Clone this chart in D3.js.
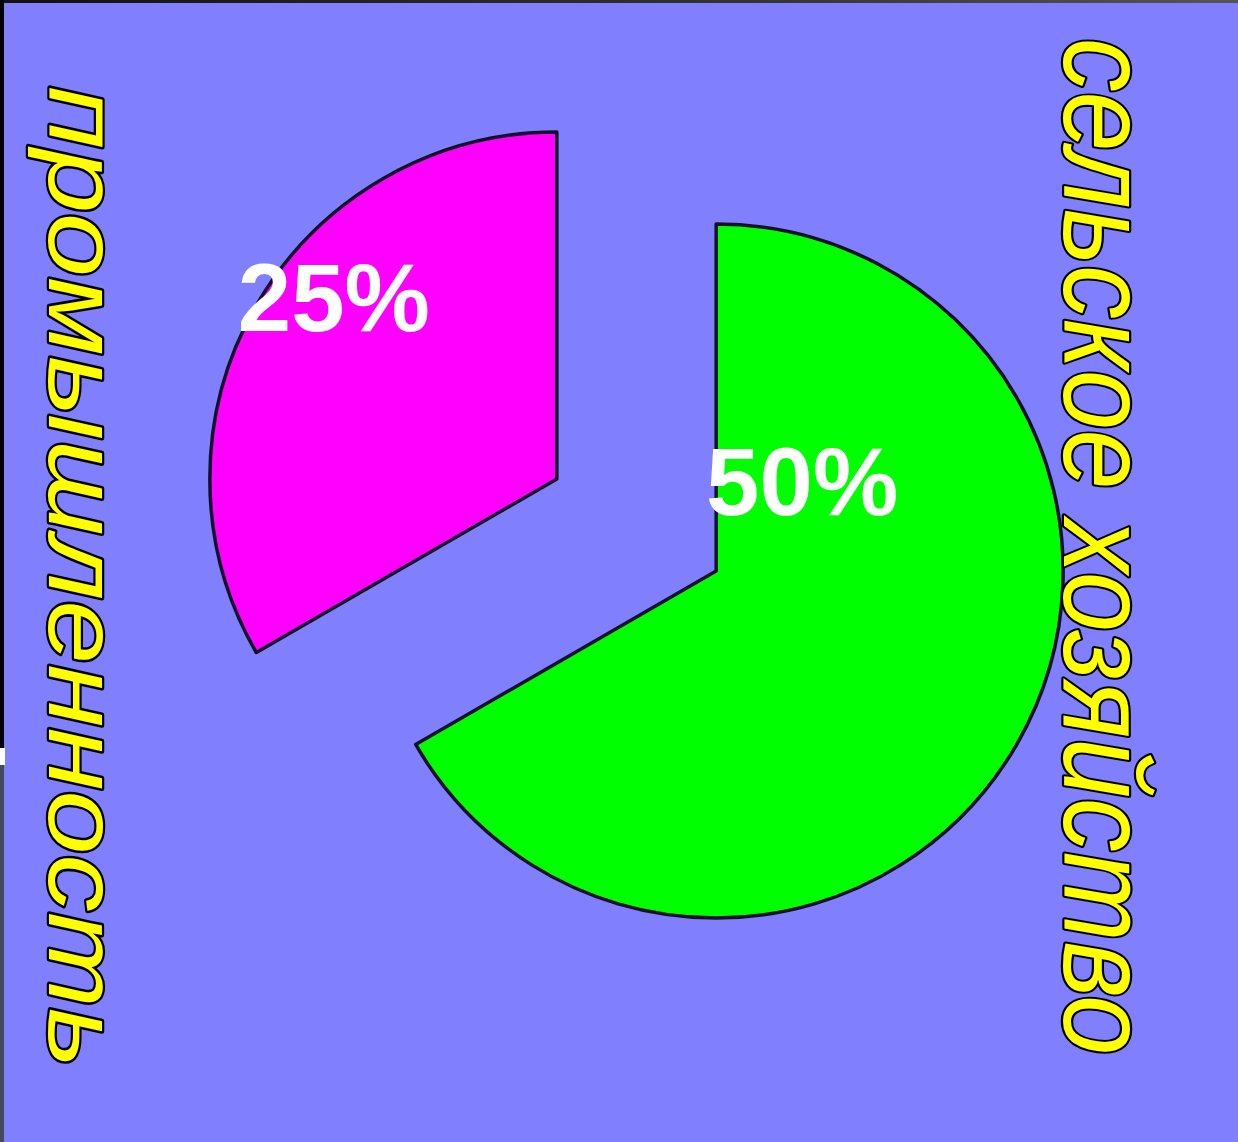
<!DOCTYPE html>
<html>
<head>
<meta charset="utf-8">
<script src="https://cdn.jsdelivr.net/npm/d3@7"></script>
<style>
html,body{margin:0;padding:0;background:#8080ff;}
svg{display:block;}
</style>
</head>
<body>
<script>
const categories = ["сельское хозяйство", "промышленность"];
const values = [50, 25];
const valueLabels = ["50%", "25%"];
const colors = ["#00ff00", "#ff00ff"];

const W = 1238, H = 1142;
const svg = d3.select("body").append("svg").attr("width", W).attr("height", H);

svg.append("rect").attr("width", W).attr("height", H).attr("fill", "#8080ff");

// frame remnants
const topGrad = svg.append("defs").append("linearGradient").attr("id","tg");
topGrad.append("stop").attr("offset","0%").attr("stop-color","#111");
topGrad.append("stop").attr("offset","60%").attr("stop-color","#333");
topGrad.append("stop").attr("offset","100%").attr("stop-color","#555");
svg.append("rect").attr("x",0).attr("y",0).attr("width",W).attr("height",3).attr("fill","url(#tg)");
svg.append("rect").attr("x",0).attr("y",0).attr("width",4).attr("height",748).attr("fill","#000");
svg.append("rect").attr("x",0).attr("y",748).attr("width",5).attr("height",17).attr("fill","#fff");
svg.append("rect").attr("x",0).attr("y",765).attr("width",4).attr("height",H-765).attr("fill","#454a5a");

const cx = 636.5, cy = 525, R = 347, explode = 92;
const pie = d3.pie().sort(null).startAngle(0).endAngle(2*Math.PI);
const arcs = pie(values);
const arc = d3.arc().innerRadius(0).outerRadius(R);

const g = svg.append("g").attr("transform", `translate(${cx},${cy})`);
const labelOffsets = [[86, -90], [-223, -182]];

arcs.forEach((a, i) => {
  const mid = (a.startAngle + a.endAngle) / 2;
  const ox = Math.sin(mid) * explode, oy = -Math.cos(mid) * explode;
  const sg = g.append("g").attr("transform", `translate(${ox},${oy})`);
  sg.append("path").attr("d", arc(a)).attr("fill", colors[i])
    .attr("stroke", "#14102a").attr("stroke-width", 3.5).attr("stroke-linejoin","round");
  sg.append("text")
    .attr("x", labelOffsets[i][0]).attr("y", labelOffsets[i][1])
    .attr("text-anchor", "middle").attr("dominant-baseline", "central")
    .attr("font-family", "Liberation Sans, Arial, sans-serif")
    .attr("font-weight", "bold").attr("font-size", 96)
    .attr("fill", "#fff").text(valueLabels[i]);
});

// vertical category labels
const vlabels = [
  {t: categories[1], x: 49, y: 86, len: 982, size: 100},
  {t: categories[0], x: 1064, y: 38, len: 1017, size: 122}
];
vlabels.forEach(v => {
  svg.append("text")
    .attr("transform", `translate(${v.x},${v.y}) rotate(90)`)
    .attr("font-family", "Liberation Sans, Arial, sans-serif")
    .attr("font-style", "italic")
    .attr("font-size", v.size)
    .attr("textLength", v.len).attr("lengthAdjust", "spacingAndGlyphs")
    .attr("fill", "#ffff00").attr("stroke", "#000").attr("stroke-width", 4.5)
    .attr("stroke-linejoin", "round")
    .attr("paint-order", "stroke")
    .text(v.t);
});
</script>
</body>
</html>
